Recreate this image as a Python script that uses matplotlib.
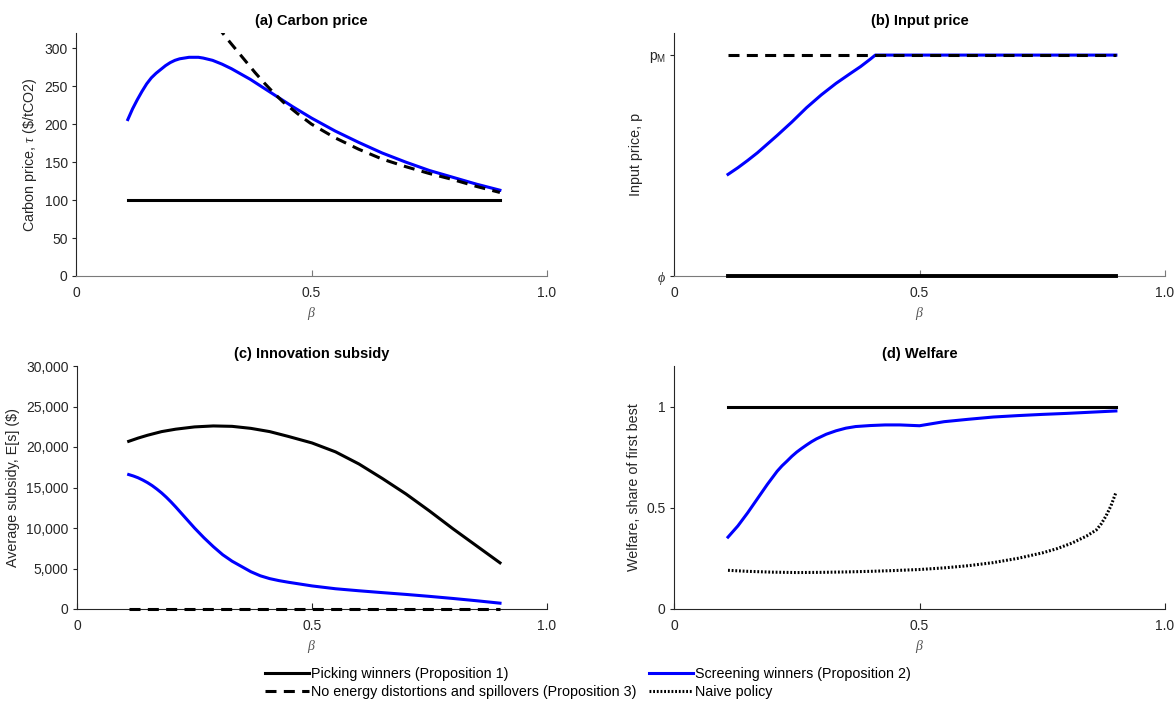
import numpy as np
import matplotlib.pyplot as plt

plt.rcParams['font.family'] = ['Liberation Sans', 'DejaVu Sans']
plt.rcParams['mathtext.fontset'] = 'custom'
plt.rcParams['mathtext.rm'] = 'Liberation Sans'
plt.rcParams['mathtext.it'] = 'Liberation Serif:italic'
plt.rcParams['mathtext.bf'] = 'Liberation Sans:bold'

# ---------------- data ----------------
beta_ends = [0.11, 0.90]

# (a) Carbon price
tau_pick = [100, 100]
beta_tau_screen = [0.11, 0.12, 0.13, 0.14, 0.15, 0.16, 0.17, 0.18, 0.19, 0.20,
                   0.21, 0.22, 0.23, 0.24, 0.25, 0.26, 0.27, 0.29, 0.31, 0.33,
                   0.35, 0.37, 0.40, 0.43, 0.46, 0.50, 0.55, 0.60, 0.65, 0.70,
                   0.75, 0.80, 0.85, 0.90]
tau_screen = [206, 220, 232, 243, 253, 261, 267, 272, 277, 281,
              284, 286, 287, 288, 288, 288, 287, 284, 279, 273,
              266, 259, 247, 235, 223, 208, 191, 176, 162, 150,
              139, 130, 121, 113]
beta_tau_nodist = [0.30, 0.32, 0.34, 0.36, 0.38, 0.40, 0.42, 0.44, 0.47, 0.50,
                   0.55, 0.60, 0.65, 0.70, 0.75, 0.80, 0.85, 0.90]
tau_nodist = [329, 313, 298, 283, 268, 254, 241, 229, 214, 200,
              182, 167, 154, 144, 135, 127, 118, 110]

# (b) Input price (phi = 0, p_M = 1)
p_pick = [0, 0]
p_nodist = [1, 1]
beta_p_screen = [0.11, 0.13, 0.15, 0.17, 0.19, 0.21, 0.24, 0.27, 0.30, 0.33,
                 0.36, 0.38, 0.40, 0.41, 0.90]
p_screen = [0.46, 0.49, 0.523, 0.558, 0.597, 0.636, 0.697, 0.762, 0.82, 0.872,
            0.918, 0.948, 0.982, 1.0, 1.0]

# (c) Innovation subsidy
beta_s_pick = [0.11, 0.13, 0.15, 0.18, 0.21, 0.25, 0.29, 0.33, 0.37, 0.41,
               0.45, 0.50, 0.55, 0.60, 0.65, 0.70, 0.75, 0.80, 0.85, 0.90]
s_pick = [20700, 21100, 21450, 21900, 22200, 22480, 22600, 22550, 22300, 21900,
          21300, 20500, 19400, 17900, 16100, 14200, 12100, 9900, 7800, 5700]
beta_s_screen = [0.11, 0.12, 0.13, 0.14, 0.15, 0.16, 0.17, 0.18, 0.19, 0.20,
                 0.21, 0.23, 0.25, 0.27, 0.29, 0.31, 0.33, 0.35, 0.37, 0.39,
                 0.41, 0.43, 0.45, 0.50, 0.55, 0.60, 0.65, 0.70, 0.75, 0.80,
                 0.85, 0.90]
s_screen = [16600, 16420, 16200, 15920, 15600, 15230, 14800, 14330, 13800, 13220,
            12600, 11300, 10000, 8800, 7700, 6700, 5900, 5250, 4600, 4100,
            3750, 3500, 3300, 2850, 2500, 2250, 2020, 1800, 1560, 1300,
            1020, 720]
s_nodist = [0, 0]

# (d) Welfare
w_pick = [1, 1]
beta_w_screen = [0.11, 0.13, 0.15, 0.17, 0.19, 0.21, 0.22, 0.23, 0.24, 0.25,
                 0.26, 0.27, 0.28, 0.29, 0.31, 0.33, 0.35, 0.37, 0.40, 0.43,
                 0.46, 0.48, 0.50, 0.52, 0.55, 0.60, 0.65, 0.70, 0.75, 0.80,
                 0.85, 0.90]
w_screen = [0.355, 0.41, 0.475, 0.545, 0.615, 0.68, 0.707, 0.73, 0.754, 0.775,
            0.793, 0.81, 0.826, 0.84, 0.863, 0.88, 0.893, 0.901, 0.906, 0.909,
            0.909, 0.907, 0.905, 0.913, 0.925, 0.937, 0.948, 0.955, 0.961, 0.966,
            0.972, 0.978]
beta_w_naive = [0.11, 0.15, 0.20, 0.25, 0.30, 0.35, 0.40, 0.45, 0.50, 0.55,
                0.60, 0.65, 0.70, 0.75, 0.78, 0.81, 0.84, 0.86, 0.87, 0.88,
                0.89, 0.90]
w_naive = [0.191, 0.186, 0.182, 0.180, 0.181, 0.183, 0.186, 0.190, 0.195, 0.203,
           0.214, 0.229, 0.250, 0.277, 0.298, 0.325, 0.360, 0.390, 0.420, 0.460,
           0.510, 0.575]

xticks = [0, 0.5, 1.0]
xtick_labels = ['0', '0.5', '1.0']
tau_ticks = [0, 50, 100, 150, 200, 250, 300]
p_ticks = [0, 1]
p_tick_labels = ['$\\phi$', '$\\mathrm{p_M}$']
s_ticks = [0, 5000, 10000, 15000, 20000, 25000, 30000]
s_tick_labels = ['0', '5,000', '10,000', '15,000', '20,000', '25,000', '30,000']
w_ticks = [0, 0.5, 1]
w_tick_labels = ['0', '0.5', '1']

labels = ['Picking winners (Proposition 1)',
          'Screening winners (Proposition 2)',
          'No energy distortions and spillovers (Proposition 3)',
          'Naive policy']

BLUE = '#0000ff'
LW = 2.2
DASH = (0, (3.6, 2.4))
DOT = (0, (0.6, 0.6))
TXT = '#262626'

fig = plt.figure(figsize=(11.76, 7.02), dpi=100)
W, H = 1176, 702
ax_a = fig.add_axes([76 / W, 1 - 276 / H, 471 / W, 243 / H])
ax_b = fig.add_axes([674 / W, 1 - 276 / H, 491 / W, 243 / H])
ax_c = fig.add_axes([77 / W, 1 - 609 / H, 470 / W, 243 / H])
ax_d = fig.add_axes([674 / W, 1 - 609 / H, 491 / W, 243 / H])


def style(ax, title, top_row):
    for s in ['top', 'right']:
        ax.spines[s].set_visible(False)
    ax.spines['left'].set_color(TXT)
    ax.spines['bottom'].set_color('#7a7a7a' if top_row else TXT)
    ax.tick_params(axis='x', direction='in', length=4, pad=7, labelsize=10,
                   colors='#7a7a7a' if top_row else TXT, labelcolor=TXT)
    ax.tick_params(axis='y', direction='out', length=3, pad=3, labelsize=10,
                   colors=TXT)
    ax.set_xlim(0, 1)
    ax.set_xticks(xticks)
    ax.set_xticklabels(xtick_labels)
    ax.set_xlabel('$\\beta$', fontsize=10, color='#555555', labelpad=4)
    ax.set_title(title, fontsize=10.5, fontweight='bold', pad=6)


# (a)
h_pick, = ax_a.plot(beta_ends, tau_pick, color='black', lw=LW)
h_screen, = ax_a.plot(beta_tau_screen, tau_screen, color=BLUE, lw=LW)
h_nodist, = ax_a.plot(beta_tau_nodist, tau_nodist, color='black', lw=LW, linestyle=DASH)
ax_a.set_ylim(0, 320)
ax_a.set_yticks(tau_ticks)
ax_a.set_ylabel('Carbon price, $\\tau$ (\\$/tCO2)', fontsize=10.3, color=TXT)
style(ax_a, '(a) Carbon price', True)

# (b)
ax_b.plot(beta_ends, p_pick, color='black', lw=LW + 0.6, clip_on=False, zorder=3)
ax_b.plot(beta_p_screen, p_screen, color=BLUE, lw=LW, zorder=3)
ax_b.plot(beta_ends, p_nodist, color='black', lw=LW, linestyle=DASH, zorder=4)
ax_b.set_ylim(0, 1.1)
ax_b.set_yticks(p_ticks)
ax_b.set_yticklabels(p_tick_labels)
ax_b.get_yticklabels()[0].set_color('#777777')
ax_b.set_ylabel('Input price, p', fontsize=10.3, color=TXT)
style(ax_b, '(b) Input price', True)

# (c)
ax_c.plot(beta_s_pick, s_pick, color='black', lw=LW)
ax_c.plot(beta_s_screen, s_screen, color=BLUE, lw=LW)
ax_c.plot(beta_ends, s_nodist, color='black', lw=LW, linestyle=DASH, clip_on=False, zorder=4)
ax_c.set_ylim(0, 30000)
ax_c.set_yticks(s_ticks)
ax_c.set_yticklabels(s_tick_labels)
ax_c.set_ylabel('Average subsidy, E[s] (\\$)', fontsize=10.3, color=TXT)
style(ax_c, '(c) Innovation subsidy', False)

# (d)
ax_d.plot(beta_ends, w_pick, color='black', lw=LW)
ax_d.plot(beta_w_screen, w_screen, color=BLUE, lw=LW)
h_naive, = ax_d.plot(beta_w_naive, w_naive, color='black', lw=LW, linestyle=DOT)
ax_d.set_ylim(0, 1.2)
ax_d.set_yticks(w_ticks)
ax_d.set_yticklabels(w_tick_labels)
ax_d.set_ylabel('Welfare, share of first best', fontsize=10.3, color=TXT)
style(ax_d, '(d) Welfare', False)

fig.legend(handles=[h_pick, h_nodist, h_screen, h_naive],
           labels=[labels[0], labels[2], labels[1], labels[3]],
           loc='upper center', bbox_to_anchor=(0.5, 1 - 667 / H), ncol=2,
           frameon=False, fontsize=10.3, handlelength=3.1, handletextpad=0.15,
           columnspacing=0.85, labelspacing=0.3, borderpad=0, borderaxespad=0)

fig.savefig('out.png', dpi=100)
